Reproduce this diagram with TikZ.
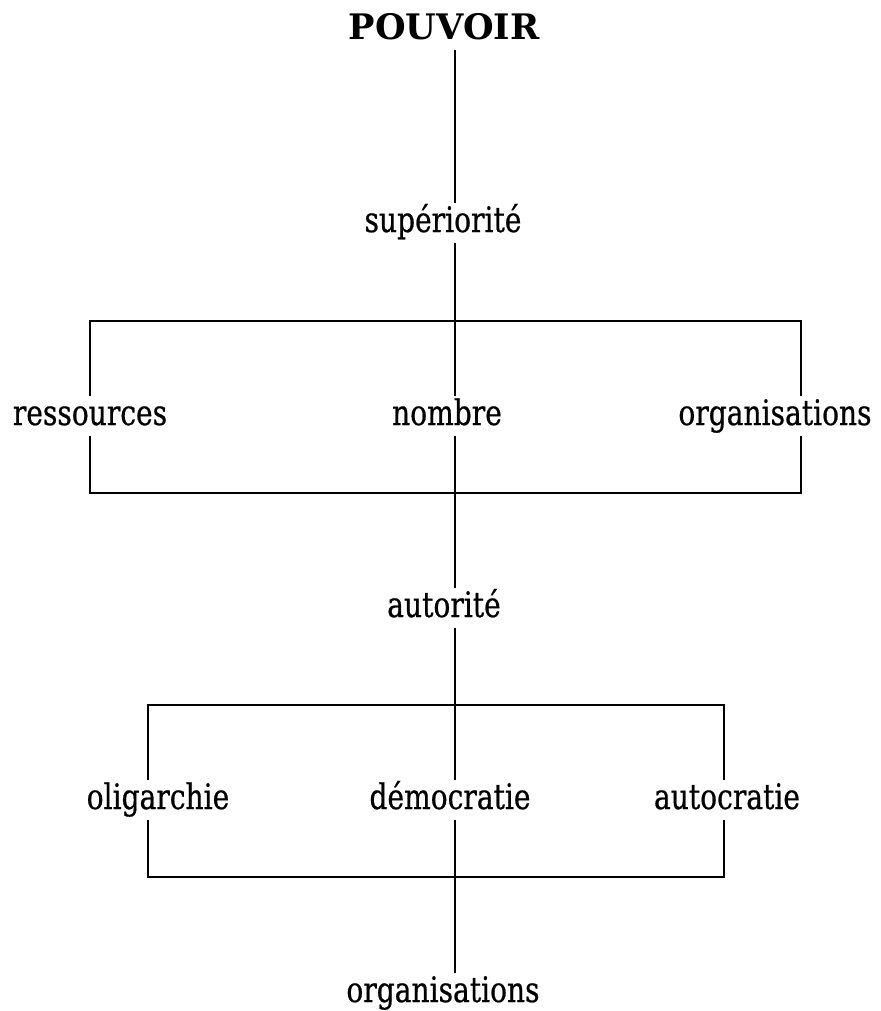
\documentclass[tikz,border=0pt]{standalone}
\usepackage{fontspec}
\setmainfont{DejaVu Serif}[FakeStretch=0.8, FakeBold=0.6]
\newfontfamily\titlefont{DejaVu Serif}
\usetikzlibrary{calc}

\tikzset{lbl/.style={anchor=base, inner sep=1pt, text height=15pt, text depth=5pt,
  font=\fontsize{20}{24}\selectfont}}

\begin{document}
\begin{tikzpicture}[line width=1pt]
\useasboundingbox (0,0) rectangle (17.62,-20.22);

\node[lbl, font=\titlefont\bfseries\fontsize{20}{24}\selectfont] (pv) at (8.88,-0.78) {POUVOIR};

\node[lbl] (sup) at (8.86,-4.64) {supériorité};

\node[lbl] (res) at (1.8,-8.5) {ressources};
\node[lbl] (nb) at (8.94,-8.5) {nombre};
\node[lbl] (org) at (15.5,-8.5) {organisations};

\node[lbl] (aut) at (8.88,-12.34) {autorité};

\node[lbl] (oli) at (3.16,-16.18) {oligarchie};
\node[lbl] (dem) at (9.0,-16.18) {démocratie};
\node[lbl] (auto) at (14.54,-16.18) {autocratie};

\node[lbl] (org2) at (8.86,-20.04) {organisations};

\coordinate (mid) at (9.1,0);
\coordinate (tl1) at (1.8,-6.42);
\coordinate (br1) at (16.02,-9.86);
\coordinate (tl2) at (2.96,-14.1);
\coordinate (br2) at (14.48,-17.54);

% spine
\draw (pv.south -| mid) -- (sup.north -| mid);
\draw (sup.south -| mid) -- (nb.north -| mid);
\draw (nb.south -| mid) -- (aut.north -| mid);
\draw (aut.south -| mid) -- (dem.north -| mid);
\draw (dem.south -| mid) -- (org2.north -| mid);

% first frame
\draw (res.north -| tl1) -- (tl1) -- (tl1 -| br1) -- (org.north -| br1);
\draw (res.south -| tl1) -- (tl1 |- br1) -- (br1) -- (org.south -| br1);

% second frame
\draw (oli.north -| tl2) -- (tl2) -- (tl2 -| br2) -- (auto.north -| br2);
\draw (oli.south -| tl2) -- (tl2 |- br2) -- (br2) -- (auto.south -| br2);

\end{tikzpicture}
\end{document}
